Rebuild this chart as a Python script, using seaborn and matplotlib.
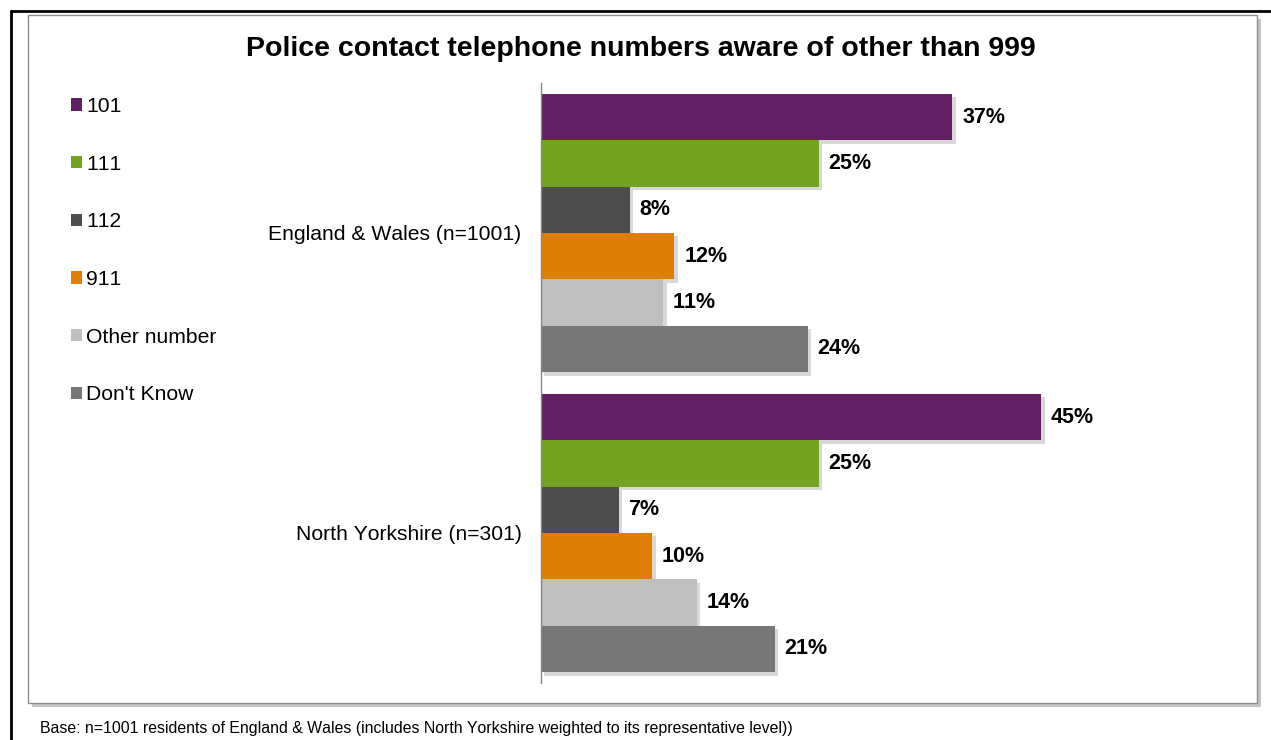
import matplotlib
matplotlib.use("Agg")
import matplotlib.pyplot as plt
import matplotlib.patheffects as pe
from matplotlib.patches import Patch, Rectangle
from matplotlib.lines import Line2D
import seaborn as sns
import pandas as pd

# Survey results: police contact numbers known besides 999
regions = ["England & Wales (n=1001)", "North Yorkshire (n=301)"]
numbers = ["101", "111", "112", "911", "Other number", "Don't Know"]
england_wales = [37, 25, 8, 12, 11, 24]
north_yorkshire = [45, 25, 7, 10, 14, 21]
colors = ["#621F63", "#72A321", "#4D4D4D", "#E07F07", "#BFBFBF", "#777777"]

title = "Police contact telephone numbers aware of other than 999"
footnote = ("Base: n=1001 residents of England & Wales (includes North Yorkshire "
            "weighted to its representative level))")

rows = []
for region, vals in zip(regions, [england_wales, north_yorkshire]):
    for num, v in zip(numbers, vals):
        rows.append({"region": region, "number": num, "value": v})
df = pd.DataFrame(rows)

sns.set_theme(style="white")
plt.rcParams["font.family"] = ["Liberation Sans", "DejaVu Sans"]
plt.rcParams["text.color"] = "black"
plt.rcParams["ytick.color"] = "black"
plt.rcParams["ytick.labelcolor"] = "black"
plt.rcParams["text.kerning_factor"] = 6

W, H = 1271, 740
fig = plt.figure(figsize=(W / 100, H / 100), dpi=100)
fig.patch.set_facecolor("white")

# outer frame (left and top edges)
fig.add_artist(Line2D([10.5 / W, 1.0], [1 - 10.5 / H, 1 - 10.5 / H],
                      transform=fig.transFigure, color="black", lw=2.0))
fig.add_artist(Line2D([10.5 / W, 10.5 / W], [0.0, 1 - 10.5 / H],
                      transform=fig.transFigure, color="black", lw=2.0))

# chart area box with soft drop shadow
box = Rectangle((28 / W, 1 - 703 / H), (1257 - 28) / W, (703 - 15) / H,
                transform=fig.transFigure, facecolor="white",
                edgecolor="#8C8C8C", lw=1.0,
                path_effects=[pe.SimplePatchShadow(offset=(3, -3), shadow_rgbFace="#7F7F7F", alpha=0.45),
                              pe.Normal()])
fig.add_artist(box)

ax_left, ax_right = 541, 1241
ax_top, ax_bottom = 83, 683
ax = fig.add_axes([ax_left / W, 1 - ax_bottom / H, (ax_right - ax_left) / W, (ax_bottom - ax_top) / H])
ax.set_facecolor("none")
ax.set_zorder(2)

sns.barplot(data=df, y="region", x="value", hue="number", order=regions,
            hue_order=numbers, palette=colors, orient="h", width=0.927,
            errorbar=None, saturation=1, ax=ax, legend=False)

shadow = [pe.SimplePatchShadow(offset=(2.5, -2.5), shadow_rgbFace="#808080", alpha=0.3), pe.Normal()]
for container in ax.containers:
    for bar in container:
        bar.set_edgecolor("none")
        bar.set_path_effects(shadow)
    ax.bar_label(container, labels=[f"{int(v)}%" for v in container.datavalues],
                 padding=7, fontsize=15.5, fontweight="bold", color="black")

px_per_pct = 11.12
ax.set_xlim(0, (ax_right - ax_left) / px_per_pct)
ax.set_ylim(1.5, -0.5)
ax.set_xlabel("")
ax.set_ylabel("")
ax.set_xticks([])
for s in ["top", "right", "bottom"]:
    ax.spines[s].set_visible(False)
ax.spines["left"].set_color("#868686")
ax.spines["left"].set_linewidth(1.0)
ax.set_yticks([0, 1])
ax.set_yticklabels(regions, fontsize=15.2, color="black")
ax.tick_params(axis="y", which="major", length=0, pad=14)
ax.set_yticks([-0.5, 0.5, 1.5], minor=True)
ax.tick_params(axis="y", which="minor", length=5, width=1.0, color="#868686", direction="out")

# legend on the left side
handles = [Patch(facecolor=c, edgecolor="none") for c in colors]
fig.legend(handles, numbers, loc="upper left", bbox_to_anchor=(71 / W, 1 - 97 / H),
           frameon=False, fontsize=15.2, handlelength=0.52, handleheight=0.52,
           handletextpad=0.2, labelspacing=1.83, borderaxespad=0, borderpad=0,
           labelcolor="black")

fig.text(641 / W, 1 - 49 / H, title, ha="center", va="center",
         fontsize=20.5, fontweight="bold", color="black")
fig.text(40 / W, 1 - 728 / H, footnote, ha="left", va="center",
         fontsize=11.4, color="black")

fig.savefig("out.png", dpi=100, facecolor="white")
